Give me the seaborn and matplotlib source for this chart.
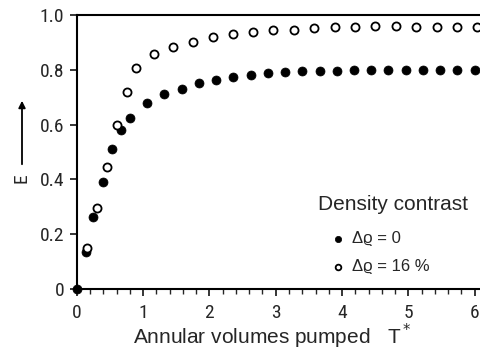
import numpy as np
import pandas as pd
import matplotlib
matplotlib.use("Agg")
import matplotlib.pyplot as plt
from matplotlib import font_manager
import seaborn as sns

# %%
# filled dots: no density contrast
t_zero = [0.0, 0.14, 0.24, 0.39, 0.53, 0.66, 0.80, 1.06, 1.32, 1.58, 1.84, 2.10,
          2.36, 2.62, 2.88, 3.14, 3.40, 3.66, 3.92, 4.18, 4.44, 4.70, 4.96, 5.22,
          5.48, 5.74, 6.00]
e_zero = [0.0, 0.135, 0.263, 0.39, 0.51, 0.58, 0.625, 0.68, 0.71, 0.73, 0.752, 0.763,
          0.774, 0.781, 0.788, 0.792, 0.794, 0.795, 0.797, 0.799, 0.800, 0.801, 0.801, 0.801,
          0.800, 0.800, 0.800]

# open circles: 16 % density contrast
t_16 = [0.15, 0.30, 0.46, 0.60, 0.75, 0.89, 1.16, 1.45, 1.75, 2.05, 2.35, 2.65,
        2.96, 3.27, 3.57, 3.89, 4.20, 4.50, 4.81, 5.12, 5.43, 5.73, 6.04]
e_16 = [0.15, 0.296, 0.445, 0.598, 0.72, 0.806, 0.857, 0.883, 0.902, 0.92, 0.93, 0.937,
        0.945, 0.945, 0.952, 0.956, 0.956, 0.96, 0.96, 0.958, 0.958, 0.958, 0.958]

labels = ["Δϱ = 0", "Δϱ = 16 %"]
x_ticks = [0, 1, 2, 3, 4, 5, 6]
x_minor = [i * 0.2 for i in range(31)]
y_ticks = [0, 0.2, 0.4, 0.6, 0.8, 1.0]
y_ticklabels = ["0", "0.2", "0.4", "0.6", "0.8", "1.0"]

# %%
sns.set_style("ticks")
plt.rcParams["font.family"] = ["Liberation Sans", "DejaVu Sans"]

# condensed face for the tick numbers, if one is around
installed = {f.name for f in font_manager.fontManager.ttflist}
narrow = [n for n in ["Liberation Sans Narrow", "DejaVu Sans Condensed", "Roboto Condensed",
                      "Open Sans Condensed"] if n in installed]
tickfont = narrow + ["Liberation Sans", "DejaVu Sans"]

fig = plt.figure(figsize=(4.8, 3.53), dpi=100)
ax = fig.add_axes([0.160, 0.181, 0.840, 0.7765])

sns.scatterplot(x=t_zero, y=e_zero, ax=ax, color="black", s=42, edgecolor="black",
                linewidth=0.5, marker="o", label=labels[0], clip_on=False, zorder=3)
sns.scatterplot(x=t_16, y=e_16, ax=ax, facecolor="white", s=34, edgecolor="black",
                linewidth=1.3, marker="o", label=labels[1], clip_on=False, zorder=3)

ax.set_xlim(0, 6.08)
ax.set_ylim(0, 1.0)
ax.set_xticks(x_ticks)
ax.set_xticklabels([str(v) for v in x_ticks])
ax.set_xticks(x_minor, minor=True)
ax.set_yticks(y_ticks)
ax.set_yticklabels(y_ticklabels)

for s in ["left", "bottom", "top"]:
    ax.spines[s].set_linewidth(1.5)
    ax.spines[s].set_color("black")
ax.spines["right"].set_visible(False)

ax.tick_params(axis="both", which="major", length=5, width=1.3, direction="out",
               labelsize=14, pad=4)
ax.tick_params(axis="x", which="minor", length=3.5, width=1.0, direction="out",
               bottom=True)
ax.tick_params(axis="x", which="major", pad=6)
for lab in ax.get_xticklabels() + ax.get_yticklabels():
    lab.set_family(tickfont)

ax.set_xlabel("Annular volumes pumped   T$^*$", fontsize=15, va="center")
ax.xaxis.set_label_coords(0.485, -0.172)
ax.set_ylabel("")

# y label "E" with an upward arrow
fig.text(22 / 480, 1 - 178 / 353, "E", rotation=90, fontsize=14,
         ha="center", va="center", family=tickfont)
ax.annotate("", xy=(22 / 480, 1 - 98 / 353), xytext=(22 / 480, 1 - 167 / 353),
            xycoords="figure fraction", textcoords="figure fraction",
            arrowprops=dict(arrowstyle="-|>", color="black", lw=1.3,
                            mutation_scale=10))

# legend: title as its own text, entries indented below it
ax.text(0.598, 0.307, "Density contrast", transform=ax.transAxes, fontsize=15,
        ha="left", va="center")
leg = ax.legend(loc="upper left", bbox_to_anchor=(0.628, 0.212), frameon=False,
                fontsize=12, handletextpad=0.3, labelspacing=0.8, borderpad=0,
                borderaxespad=0, markerscale=0.7, handlelength=1.0)

fig.savefig("out.png", dpi=100)
